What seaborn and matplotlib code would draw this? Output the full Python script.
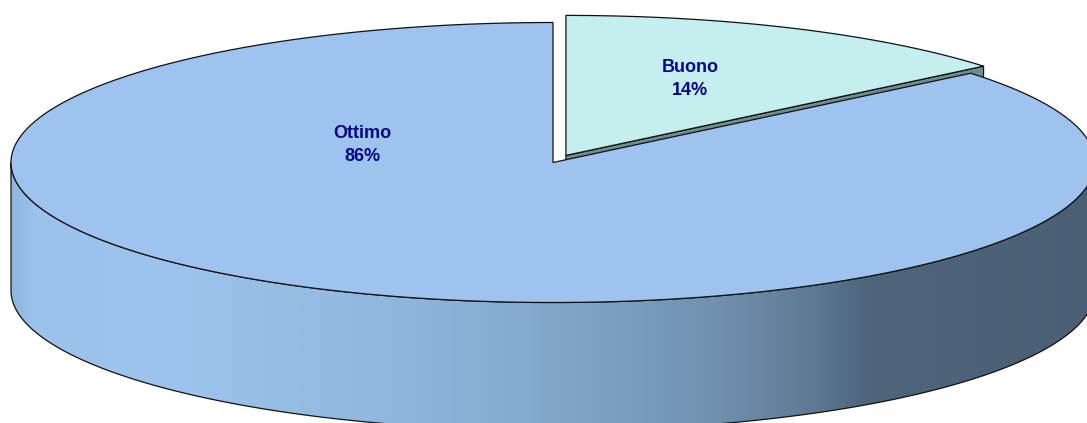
import numpy as np
import matplotlib
matplotlib.use("Agg")
import matplotlib.pyplot as plt
from matplotlib.patches import Polygon
from matplotlib.colors import LinearSegmentedColormap
import seaborn as sns

# data
categories = ["Buono", "Ottimo"]
shares = [14, 86]
explode = [0.056, 0.0]
top_colors = ["#C5EEEF", "#9DC3EE"]
face_color = "#6F8D8B"
label_pos = [(690, 79), (362, 145)]

# gradient on the round side (dark on the right)
grad_stops = [(0.0, "#8EB7DF"), (0.02, "#9AC2EA"), (0.15, "#9CC4EC"),
              (0.30, "#93BBE1"), (0.45, "#87ADD3"), (0.55, "#7DA0C2"),
              (0.65, "#7091AF"), (0.74, "#5F7A94"), (0.79, "#4E657C"),
              (1.0, "#4A5F74")]

sns.set_style("white")
plt.rcParams['font.family'] = ['Liberation Sans', 'DejaVu Sans']

W, H = 1087, 423
fig = plt.figure(figsize=(W / 100, H / 100), dpi=100)
ax = fig.add_axes([0, 0, 1, 1])
ax.set_xlim(0, W)
ax.set_ylim(H, 0)
ax.axis('off')

cx, cy, rx, ry, depth = 553, 162.5, 542, 140, 128
edge = dict(edgecolor="#111111", linewidth=0.9)


def rim(t, dx=0.0, dy=0.0, z=0.0):
    t = np.atleast_1d(t)
    return np.column_stack([cx + dx + rx * np.sin(t), cy + dy - ry * np.cos(t) + z])


frac = np.cumsum([0] + shares) / sum(shares)
starts = frac[:-1] * 2 * np.pi
ends = frac[1:] * 2 * np.pi
cmap = LinearSegmentedColormap.from_list("side", grad_stops)

for i, cat in enumerate(categories):
    s, e = starts[i], ends[i]
    mid = (s + e) / 2
    dx = explode[i] * rx * np.sin(mid)
    dy = -explode[i] * ry * np.cos(mid)
    c0 = np.array([[cx + dx, cy + dy]])

    # radial faces that look towards the viewer
    for ang, vis in ((e, np.sin(e) > 1e-6), (s, np.sin(s) < -1e-6)):
        if vis:
            p = rim(ang, dx, dy)
            quad = np.vstack([c0, p, p + [0, depth], c0 + [0, depth]])
            ax.add_patch(Polygon(quad, closed=True, facecolor=face_color, **edge))

    # outer side, front half only
    a0, a1 = max(s, np.pi / 2), min(e, 3 * np.pi / 2)
    if a1 > a0:
        t = np.linspace(a0, a1, 300)
        side = np.vstack([rim(t, dx, dy), rim(t[::-1], dx, dy, depth)])
        sp = Polygon(side, closed=True, facecolor="none", **edge)
        ax.add_patch(sp)
        im = ax.imshow(np.linspace(0, 1, 512)[None, :], cmap=cmap, aspect='auto',
                       extent=(cx - rx, cx + rx, cy + ry + depth, cy - ry),
                       interpolation='bilinear', zorder=0.5)
        im.set_clip_path(sp)
        sp.set_zorder(0.6)

    # top face
    t = np.linspace(s, e, 400)
    top = np.vstack([c0, rim(t, dx, dy)])
    ax.add_patch(Polygon(top, closed=True, facecolor=top_colors[i], zorder=1 + i, **edge))

    lx, ly = label_pos[i]
    ax.text(lx, ly, f"{cat}\n{shares[i]}%", ha='center', va='center', fontsize=13,
            fontweight='bold', color="#06068A", linespacing=1.45, zorder=5)

fig.savefig("out.png", dpi=100)
